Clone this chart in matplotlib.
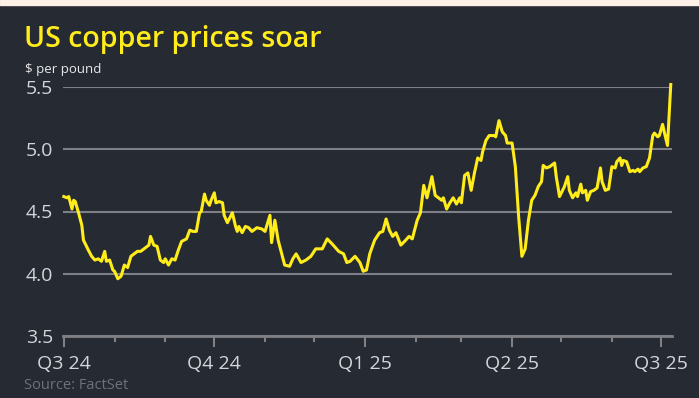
import matplotlib
matplotlib.use("Agg")
import matplotlib.pyplot as plt
import matplotlib.dates as mdates
import pandas as pd
from matplotlib.patches import Rectangle

# US copper price, $ per pound
dates = [
    "2024-07-01", "2024-07-03", "2024-07-04", "2024-07-06", "2024-07-07", "2024-07-08",
    "2024-07-10", "2024-07-12", "2024-07-13", "2024-07-16", "2024-07-18", "2024-07-20",
    "2024-07-22", "2024-07-24", "2024-07-26", "2024-07-27", "2024-07-29", "2024-07-31",
    "2024-08-01", "2024-08-03", "2024-08-05", "2024-08-07", "2024-08-09", "2024-08-11",
    "2024-08-13", "2024-08-15", "2024-08-17", "2024-08-19", "2024-08-22", "2024-08-23",
    "2024-08-25", "2024-08-27", "2024-08-29", "2024-08-31", "2024-09-01", "2024-09-03",
    "2024-09-05", "2024-09-07", "2024-09-09", "2024-09-11", "2024-09-14", "2024-09-16",
    "2024-09-18", "2024-09-20", "2024-09-22", "2024-09-23", "2024-09-25", "2024-09-26",
    "2024-09-28", "2024-09-29", "2024-10-01", "2024-10-02", "2024-10-04", "2024-10-06",
    "2024-10-07", "2024-10-09", "2024-10-12", "2024-10-14", "2024-10-15", "2024-10-16",
    "2024-10-18", "2024-10-20", "2024-10-22", "2024-10-24", "2024-10-27", "2024-10-30",
    "2024-11-01", "2024-11-04", "2024-11-05", "2024-11-07", "2024-11-09", "2024-11-11",
    "2024-11-13", "2024-11-16", "2024-11-18", "2024-11-20", "2024-11-23", "2024-11-26",
    "2024-11-29", "2024-12-02", "2024-12-06", "2024-12-09", "2024-12-12", "2024-12-16",
    "2024-12-19", "2024-12-21", "2024-12-23", "2024-12-26", "2024-12-29", "2024-12-31",
    "2025-01-02", "2025-01-04", "2025-01-07", "2025-01-10", "2025-01-12", "2025-01-14",
    "2025-01-16", "2025-01-18", "2025-01-20", "2025-01-23", "2025-01-26", "2025-01-28",
    "2025-01-30", "2025-02-02", "2025-02-04", "2025-02-06", "2025-02-08", "2025-02-11",
    "2025-02-13", "2025-02-15", "2025-02-17", "2025-02-18", "2025-02-20", "2025-02-22",
    "2025-02-24", "2025-02-26", "2025-02-28", "2025-03-01", "2025-03-03", "2025-03-05",
    "2025-03-07", "2025-03-09", "2025-03-11", "2025-03-13", "2025-03-14", "2025-03-16",
    "2025-03-18", "2025-03-21", "2025-03-22", "2025-03-24", "2025-03-26", "2025-03-28",
    "2025-03-29", "2025-04-01", "2025-04-03", "2025-04-05", "2025-04-07", "2025-04-09",
    "2025-04-11", "2025-04-13", "2025-04-15", "2025-04-17", "2025-04-19", "2025-04-20",
    "2025-04-22", "2025-04-24", "2025-04-27", "2025-04-28", "2025-04-30", "2025-05-03",
    "2025-05-05", "2025-05-06", "2025-05-08", "2025-05-10", "2025-05-11", "2025-05-13",
    "2025-05-14", "2025-05-16", "2025-05-17", "2025-05-19", "2025-05-21", "2025-05-23",
    "2025-05-25", "2025-05-26", "2025-05-28", "2025-05-30", "2025-06-01", "2025-06-03",
    "2025-06-04", "2025-06-06", "2025-06-07", "2025-06-08", "2025-06-10", "2025-06-12",
    "2025-06-14", "2025-06-15", "2025-06-17", "2025-06-18", "2025-06-20", "2025-06-22",
    "2025-06-24", "2025-06-26", "2025-06-27", "2025-06-29", "2025-06-30", "2025-07-02",
    "2025-07-03", "2025-07-05", "2025-07-07",
]
prices = [
    4.62, 4.61, 4.62, 4.52, 4.59, 4.58,
    4.49, 4.39, 4.27, 4.19, 4.14, 4.11,
    4.12, 4.10, 4.18, 4.10, 4.11, 4.03,
    4.02, 3.96, 3.98, 4.07, 4.05, 4.14,
    4.16, 4.18, 4.18, 4.20, 4.23, 4.30,
    4.23, 4.22, 4.11, 4.09, 4.12, 4.07,
    4.12, 4.11, 4.19, 4.26, 4.28, 4.35,
    4.34, 4.34, 4.49, 4.50, 4.64, 4.59,
    4.55, 4.59, 4.65, 4.57, 4.58, 4.57,
    4.47, 4.41, 4.49, 4.38, 4.34, 4.38,
    4.33, 4.38, 4.37, 4.34, 4.37, 4.36,
    4.34, 4.47, 4.25, 4.43, 4.27, 4.17,
    4.07, 4.06, 4.12, 4.16, 4.09, 4.11,
    4.14, 4.20, 4.20, 4.28, 4.24, 4.18,
    4.16, 4.09, 4.10, 4.14, 4.09, 4.02,
    4.03, 4.16, 4.27, 4.33, 4.34, 4.44,
    4.35, 4.30, 4.33, 4.23, 4.27, 4.30,
    4.28, 4.43, 4.49, 4.71, 4.61, 4.78,
    4.63, 4.61, 4.59, 4.61, 4.52, 4.57,
    4.61, 4.56, 4.61, 4.57, 4.79, 4.81,
    4.67, 4.81, 4.93, 4.91, 4.98, 5.07,
    5.11, 5.11, 5.10, 5.23, 5.14, 5.11,
    5.05, 5.05, 4.86, 4.46, 4.14, 4.20,
    4.43, 4.59, 4.63, 4.70, 4.74, 4.87,
    4.85, 4.86, 4.89, 4.78, 4.62, 4.70,
    4.78, 4.67, 4.61, 4.65, 4.62, 4.72,
    4.65, 4.67, 4.59, 4.66, 4.67, 4.69,
    4.85, 4.74, 4.67, 4.68, 4.86, 4.85,
    4.90, 4.93, 4.87, 4.91, 4.90, 4.82,
    4.83, 4.82, 4.84, 4.82, 4.85, 4.86,
    4.93, 5.11, 5.13, 5.10, 5.11, 5.20,
    5.14, 5.03, 5.52,
]
quarter_ticks = ["2024-07-01", "2024-10-01", "2025-01-01", "2025-04-01", "2025-07-01"]
quarter_labels = ["Q3 24", "Q4 24", "Q1 25", "Q2 25", "Q3 25"]
y_ticks = [3.5, 4.0, 4.5, 5.0, 5.5]

BG = "#262a33"
YELLOW = "#ffec1a"
GRID = "#7e8086"
TEXT = "#d3d5d9"

plt.rcParams["font.family"] = ["Open Sans", "DejaVu Sans"]

fig = plt.figure(figsize=(6.99, 3.98), dpi=100, facecolor=BG)
fig.patches.append(Rectangle((0, 1 - 5 / 398), 1, 5 / 398, transform=fig.transFigure,
                             color="#fdf0e6", zorder=0))

ax = fig.add_axes([63 / 699, 62 / 398, 609 / 699, 249 / 398])
ax.set_facecolor(BG)
ax.plot(pd.to_datetime(dates), prices, color=YELLOW, lw=2.2, clip_on=False, zorder=3,
        solid_joinstyle="round")

ax.set_ylim(3.5, 5.5)
ax.set_xlim(pd.Timestamp("2024-06-30 12:00"), pd.Timestamp("2025-07-07 18:00"))

ax.set_yticks(y_ticks)
ax.set_yticklabels([f"{v:.1f}" for v in y_ticks])
ax.yaxis.grid(True, color=GRID, lw=1.5)
ax.set_axisbelow(True)
ax.tick_params(axis="y", length=0, pad=7, labelsize=14, labelcolor=TEXT)

ax.set_xticks(pd.to_datetime(quarter_ticks))
ax.set_xticklabels(quarter_labels)
ax.xaxis.set_minor_locator(mdates.MonthLocator())
ax.tick_params(axis="x", which="major", length=8, width=1.5, color=GRID, pad=6,
               labelsize=14, labelcolor=TEXT)
ax.tick_params(axis="x", which="minor", length=4, width=1.5, color=GRID)

for side in ("top", "right", "left"):
    ax.spines[side].set_visible(False)
ax.spines["bottom"].set_color(GRID)
ax.spines["bottom"].set_linewidth(2)

fig.text(24 / 699, 1 - 47 / 398, "US copper prices soar", fontsize=20.5,
         fontweight="semibold", color=YELLOW, va="baseline")
fig.text(25 / 699, 1 - 73 / 398, "$ per pound", fontsize=9.5, color="#e8e9eb",
         va="baseline")
fig.text(24 / 699, 1 - 389 / 398, "Source: FactSet", fontsize=10.5, color="#6f7176",
         va="baseline")

fig.savefig("out.png", dpi=100, facecolor=BG)
